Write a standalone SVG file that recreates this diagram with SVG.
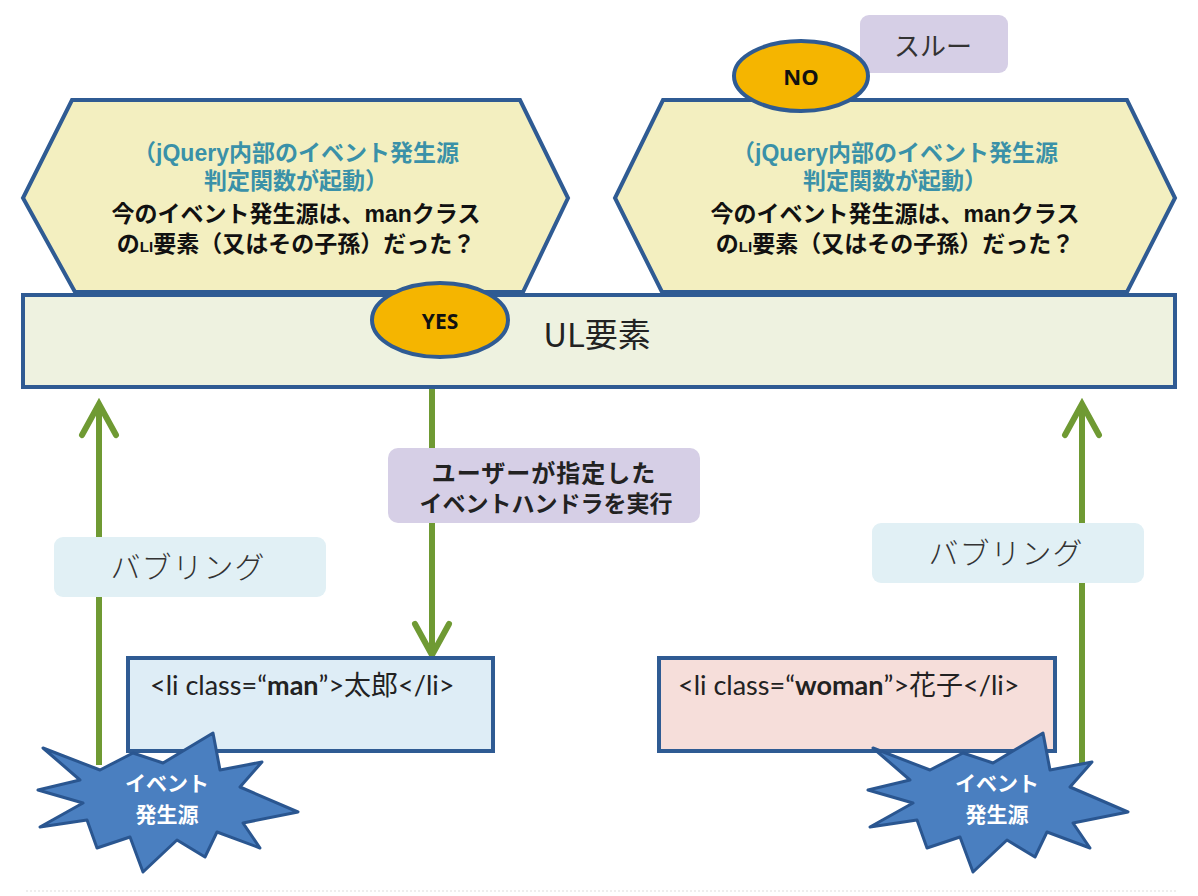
<svg xmlns="http://www.w3.org/2000/svg" width="1198" height="896" viewBox="0 0 1198 896">
<style>
.hex{fill:#f3efc0;stroke:#2f5b93;stroke-width:4;stroke-linejoin:miter}
.rect{stroke:#2f5b93;stroke-width:4}
.oval{fill:#f5b500;stroke:#2f5b93;stroke-width:4}
.star{fill:#4a7fc0;stroke:#2a5690;stroke-width:3;stroke-linejoin:round}
.jp{font-family:"Liberation Sans","Noto Sans CJK JP",sans-serif}
.hext{font-weight:bold;font-size:23px}
.teal{fill:#3a91a8}
.q{fill:#111}
.lbl{fill:#222;font-weight:bold}
.bub{fill:#333;font-weight:300;font-size:30px;letter-spacing:1px}
.li{font-family:Lato,"Noto Sans CJK JP",sans-serif;font-size:27px;fill:#222}
.star-t{fill:#fff;font-weight:bold;font-size:21px}
.conn{stroke:#6f9a33;stroke-width:6;fill:none}
</style>
<defs>
<marker id="chev" markerUnits="userSpaceOnUse" markerWidth="40" markerHeight="40" refX="0" refY="0" orient="auto" overflow="visible">
<path d="M-31,-17 L0,0 L-31,17" fill="none" stroke="#6f9a33" stroke-width="6" stroke-linecap="round" stroke-linejoin="miter"/>
</marker>
<polygon id="starShape" points="213,733 220,770 262,762 240,787 298,812 243,823 260,848 217,832 205,857 177,840 143,872 130,837 97,848 87,820 40,827 83,803 38,790 80,780 43,748 100,770 133,753 163,763"/>
</defs>
<rect width="1198" height="896" fill="#fff"/>
<line x1="26" y1="891" x2="1178" y2="891" stroke="#ddd" stroke-width="1" stroke-dasharray="2,2"/>

<g id="connectors">
<line class="conn" x1="432" y1="357" x2="432" y2="655" marker-end="url(#chev)"/>
<line class="conn" x1="99" y1="765" x2="99" y2="404" marker-end="url(#chev)"/>
<line class="conn" x1="1082" y1="763" x2="1082" y2="404" marker-end="url(#chev)"/>
</g>

<g id="hex-left">
<polygon class="hex" points="72,100 520,100 568,198 523,292 75,292 23,198"/>
<text class="jp hext" text-anchor="middle"><tspan class="teal" x="296" y="161">（jQuery内部のイベント発生源</tspan><tspan class="teal" x="296" y="189">判定関数が起動）</tspan><tspan class="q" x="296" y="222">今のイベント発生源は、manクラス</tspan><tspan class="q" x="296" y="252">の<tspan font-size="15">LI</tspan>要素（又はその子孫）だった？</tspan></text>
</g>

<g id="hex-right">
<polygon class="hex" points="663,100 1127,100 1175,198 1127,292 662,292 615,198"/>
<text class="jp hext" text-anchor="middle"><tspan class="teal" x="895" y="161">（jQuery内部のイベント発生源</tspan><tspan class="teal" x="895" y="189">判定関数が起動）</tspan><tspan class="q" x="895" y="222">今のイベント発生源は、manクラス</tspan><tspan class="q" x="895" y="252">の<tspan font-size="15">LI</tspan>要素（又はその子孫）だった？</tspan></text>
</g>

<g id="through">
<rect x="860" y="15" width="148" height="58" rx="9" fill="#d6cfe6"/>
<text class="jp" x="933" y="56" text-anchor="middle" font-size="26" fill="#333">スルー</text>
</g>

<g id="no">
<ellipse class="oval" cx="801" cy="76" rx="67" ry="35"/>
<text x="801" y="85" text-anchor="middle" font-family="'Open Sans','Liberation Sans',sans-serif" font-weight="bold" font-size="22" fill="#111">NO</text>
</g>

<g id="ul">
<rect class="rect" x="23" y="295" width="1152" height="92" fill="#eef2e0"/>
<text x="597" y="347" text-anchor="middle" font-family="'Noto Sans CJK JP',sans-serif" font-size="33" fill="#222">UL要素</text>
</g>

<g id="yes">
<ellipse class="oval" cx="440" cy="320" rx="68" ry="37"/>
<text x="440" y="329" text-anchor="middle" font-family="'Open Sans','Liberation Sans',sans-serif" font-weight="bold" font-size="21" fill="#111">YES</text>
</g>

<g id="handler">
<rect x="388" y="448" width="312" height="75" rx="10" fill="#d6cfe6"/>
<text class="jp lbl" text-anchor="middle"><tspan x="544" y="482" font-size="24" letter-spacing="1">ユーザーが指定した</tspan><tspan x="546" y="512" font-size="23">イベントハンドラを実行</tspan></text>
</g>

<g id="bubble-left">
<rect x="54" y="537" width="272" height="60" rx="9" fill="#e1f0f5"/>
<text class="jp bub" x="188" y="578" text-anchor="middle">バブリング</text>
</g>

<g id="bubble-right">
<rect x="872" y="523" width="272" height="60" rx="9" fill="#e1f0f5"/>
<text class="jp bub" x="1006" y="564" text-anchor="middle">バブリング</text>
</g>

<g id="li-man">
<rect class="rect" x="128" y="658" width="365" height="93" fill="#deedf6"/>
<text class="li" x="150" y="695">&lt;li class=“<tspan font-weight="bold">man</tspan>”&gt;太郎&lt;/li&gt;</text>
</g>

<g id="li-woman">
<rect class="rect" x="659" y="658" width="396" height="93" fill="#f6deda"/>
<text class="li" x="678" y="695">&lt;li class=“<tspan font-weight="bold">woman</tspan>”&gt;花子&lt;/li&gt;</text>
</g>

<g id="source-left">
<use href="#starShape" class="star"/>
<text class="jp star-t" text-anchor="middle"><tspan x="167" y="791">イベント</tspan><tspan x="167" y="822">発生源</tspan></text>
</g>

<g id="source-right">
<use href="#starShape" class="star" transform="translate(830,0)"/>
<text class="jp star-t" text-anchor="middle"><tspan x="997" y="791">イベント</tspan><tspan x="997" y="822">発生源</tspan></text>
</g>
</svg>
